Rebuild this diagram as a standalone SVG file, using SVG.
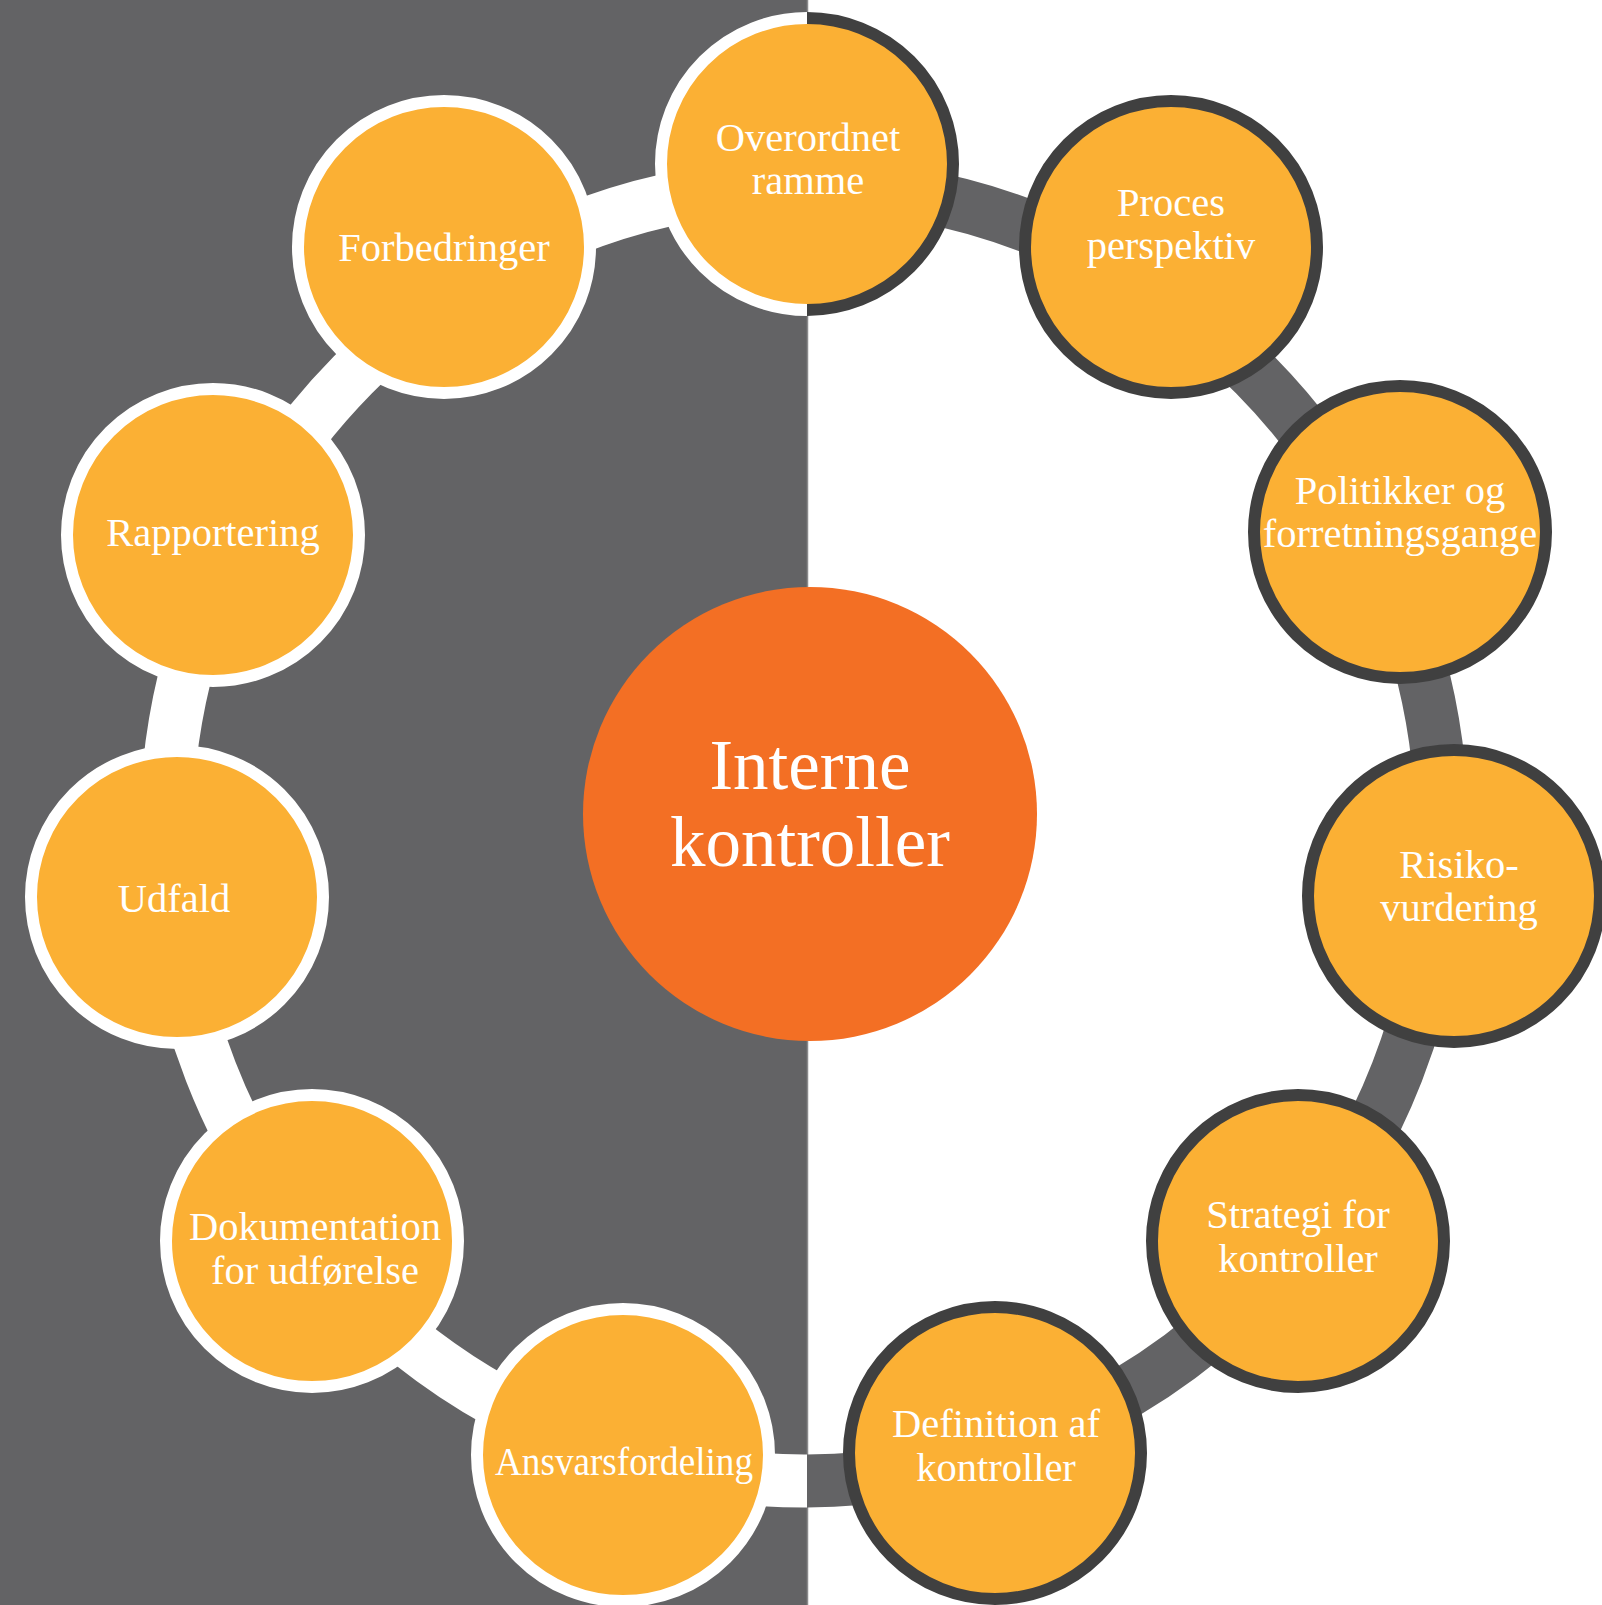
<svg xmlns="http://www.w3.org/2000/svg" width="1602" height="1605" viewBox="0 0 1602 1605">
<defs>
<style>
.bgL{fill:#636365}
.bgR{fill:#ffffff}
.ring{fill:none;stroke-width:53}
.node{fill:#FBB034}
.sw{fill:none;stroke:#ffffff;stroke-width:12}
.sd{fill:none;stroke:#404040;stroke-width:12}
.lbl{font-family:"Liberation Serif","Times New Roman",serif;font-size:40.5px;fill:#ffffff;text-anchor:middle}
.big{font-family:"Liberation Serif","Times New Roman",serif;font-size:71px;fill:#ffffff;text-anchor:middle}
</style>
<clipPath id="clipL"><rect x="0" y="0" width="807" height="1605"/></clipPath>
<clipPath id="clipR"><rect x="807" y="0" width="795" height="1605"/></clipPath>
</defs>

<g id="background">
<rect class="bgR" x="0" y="0" width="1602" height="1605"/>
<rect class="bgL" x="0" y="0" width="807" height="1605"/>
<line x1="807.5" y1="0" x2="807.5" y2="1605" stroke="#8a8a8c" stroke-width="1.5"/>
</g>

<g id="connectors">
<ellipse class="ring" cx="804" cy="833" rx="638" ry="648" stroke="#ffffff" clip-path="url(#clipL)"/>
<ellipse class="ring" cx="804" cy="833" rx="638" ry="648" stroke="#636365" clip-path="url(#clipR)"/>
</g>

<g id="center">
<circle cx="810" cy="814" r="227" fill="#F36F24"/>
<text class="big" x="810" y="789">Interne</text>
<text class="big" x="810" y="866">kontroller</text>
</g>

<g id="node-overordnet">
<circle class="node" cx="807" cy="164" r="146"/>
<path class="sw" d="M807,18 A146,146 0 0 0 807,310"/>
<path class="sd" d="M807,18 A146,146 0 0 1 807,310"/>
<text class="lbl" x="808" y="151">Overordnet</text>
<text class="lbl" x="808" y="194">ramme</text>
</g>

<g id="node-proces">
<circle class="node sd" cx="1171" cy="247" r="146" style="fill:#FBB034"/>
<text class="lbl" x="1171" y="216">Proces</text>
<text class="lbl" x="1171" y="259">perspektiv</text>
</g>

<g id="node-politikker">
<circle class="node sd" cx="1400" cy="532" r="146" style="fill:#FBB034"/>
<text class="lbl" x="1400" y="504">Politikker og</text>
<text class="lbl" x="1400" y="547">forretningsgange</text>
</g>

<g id="node-risiko">
<circle class="node sd" cx="1454" cy="896" r="146" style="fill:#FBB034"/>
<text class="lbl" x="1459" y="878">Risiko-</text>
<text class="lbl" x="1459" y="921">vurdering</text>
</g>

<g id="node-strategi">
<circle class="node sd" cx="1298" cy="1241" r="146" style="fill:#FBB034"/>
<text class="lbl" x="1298" y="1228">Strategi for</text>
<text class="lbl" x="1298" y="1272">kontroller</text>
</g>

<g id="node-definition">
<circle class="node sd" cx="995" cy="1453" r="146" style="fill:#FBB034"/>
<text class="lbl" x="996" y="1437">Definition af</text>
<text class="lbl" x="996" y="1481">kontroller</text>
</g>

<g id="node-ansvar">
<circle class="node sw" cx="623" cy="1455" r="146" style="fill:#FBB034"/>
<text class="lbl" x="624" y="1475" textLength="258" lengthAdjust="spacingAndGlyphs">Ansvarsfordeling</text>
</g>

<g id="node-dokumentation">
<circle class="node sw" cx="312" cy="1241" r="146" style="fill:#FBB034"/>
<text class="lbl" x="315" y="1240">Dokumentation</text>
<text class="lbl" x="315" y="1284">for udførelse</text>
</g>

<g id="node-udfald">
<circle class="node sw" cx="177" cy="897" r="146" style="fill:#FBB034"/>
<text class="lbl" x="174" y="912">Udfald</text>
</g>

<g id="node-rapportering">
<circle class="node sw" cx="213" cy="535" r="146" style="fill:#FBB034"/>
<text class="lbl" x="213" y="546">Rapportering</text>
</g>

<g id="node-forbedringer">
<circle class="node sw" cx="444" cy="247" r="146" style="fill:#FBB034"/>
<text class="lbl" x="444" y="261">Forbedringer</text>
</g>
</svg>
